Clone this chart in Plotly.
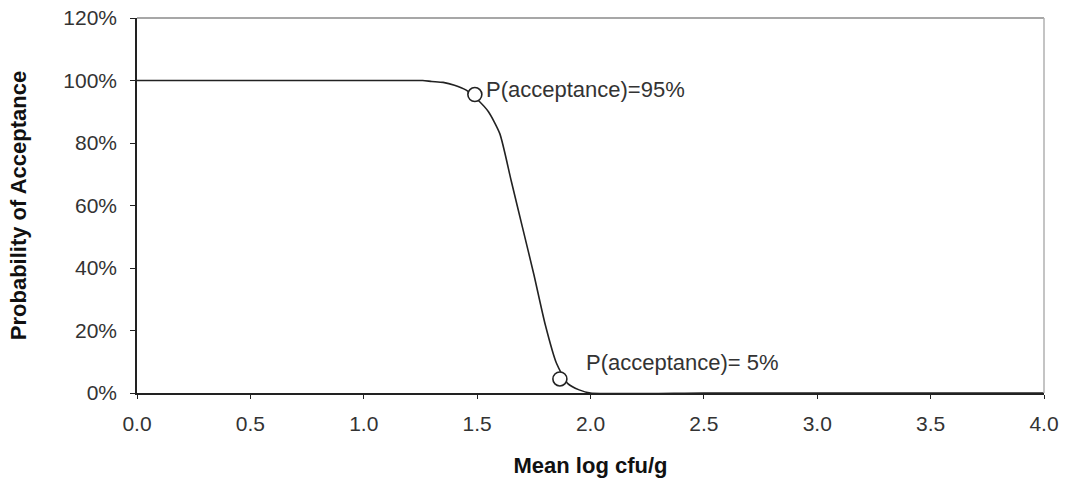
import plotly.graph_objects as go

# OC curve data
mean_log = [0.0, 0.2, 0.4, 0.6, 0.8, 1.0, 1.2, 1.26, 1.3, 1.35, 1.4, 1.45, 1.5, 1.55, 1.6,
            1.65, 1.7, 1.75, 1.8, 1.85, 1.9, 1.95, 2.0, 2.5, 3.0, 3.5, 4.0]
p_accept = [1.0, 1.0, 1.0, 1.0, 1.0, 1.0, 1.0, 1.0, 0.997, 0.994, 0.985, 0.97, 0.94, 0.90, 0.83,
            0.68, 0.53, 0.38, 0.22, 0.095, 0.03, 0.01, 0.0, 0.0, 0.0, 0.0, 0.0]

# Highlighted points
pt_x = [1.49, 1.865]
pt_y = [0.955, 0.045]
pt_labels = ["P(acceptance)=95%", "P(acceptance)= 5%"]
label_shift_x = [9, 24]
label_shift_y = [5, 16]

x_ticks = [0.0, 0.5, 1.0, 1.5, 2.0, 2.5, 3.0, 3.5, 4.0]
y_ticks = [0.0, 0.2, 0.4, 0.6, 0.8, 1.0, 1.2]

FONT = "Liberation Sans, Arial, sans-serif"
TXT = "#333333"

fig = go.Figure()
fig.add_trace(go.Scatter(x=mean_log, y=p_accept, mode="lines",
                         line=dict(color="#222222", width=1.6, shape="spline", smoothing=0.6),
                         hoverinfo="skip", showlegend=False))
fig.add_trace(go.Scatter(x=pt_x, y=pt_y, mode="markers",
                         marker=dict(symbol="circle", size=14, color="white",
                                     line=dict(color="#222222", width=1.6)),
                         showlegend=False))

for x, y, t, sx, sy in zip(pt_x, pt_y, pt_labels, label_shift_x, label_shift_y):
    fig.add_annotation(x=x, y=y, text=t, showarrow=False, xanchor="left", yanchor="middle",
                       xshift=sx, yshift=sy, font=dict(family=FONT, size=22, color=TXT))

# top and right border lines (lighter)
fig.add_shape(type="line", xref="paper", yref="paper", x0=0, x1=1, y0=1, y1=1,
              line=dict(color="#8a8a8a", width=1.5))
fig.add_shape(type="line", xref="paper", yref="paper", x0=1, x1=1, y0=0, y1=1,
              line=dict(color="#b0b0b0", width=1.5))

fig.update_layout(
    width=1065, height=483,
    margin=dict(l=137, r=21, t=18, b=90),
    paper_bgcolor="white", plot_bgcolor="white",
    font=dict(family=FONT, size=21, color=TXT),
    xaxis=dict(range=[0, 4], tickvals=x_ticks, ticktext=[f"{v:.1f}" for v in x_ticks],
               automargin=False,
               showgrid=False, zeroline=False, showline=True, linecolor="#222222", linewidth=1.6,
               ticks="outside", ticklen=4, tickcolor="#222222", tickwidth=1.2,
               ticklabelstandoff=7,
               title=dict(text="<b>Mean log cfu/g</b>", font=dict(size=22, color="#111111"),
                          standoff=24)),
    yaxis=dict(range=[0, 1.2], tickvals=y_ticks, ticktext=[f"{int(round(v*100))}%" for v in y_ticks],
               automargin=False,
               showgrid=False, zeroline=False, showline=True, linecolor="#222222", linewidth=1.6,
               ticks="outside", ticklen=5, tickcolor="#222222", tickwidth=1.2,
               ticklabelstandoff=9,
               title=dict(text="<b>Probability of Acceptance</b>", font=dict(size=22, color="#111111"),
                          standoff=31)),
)

fig.write_html("out.html")
